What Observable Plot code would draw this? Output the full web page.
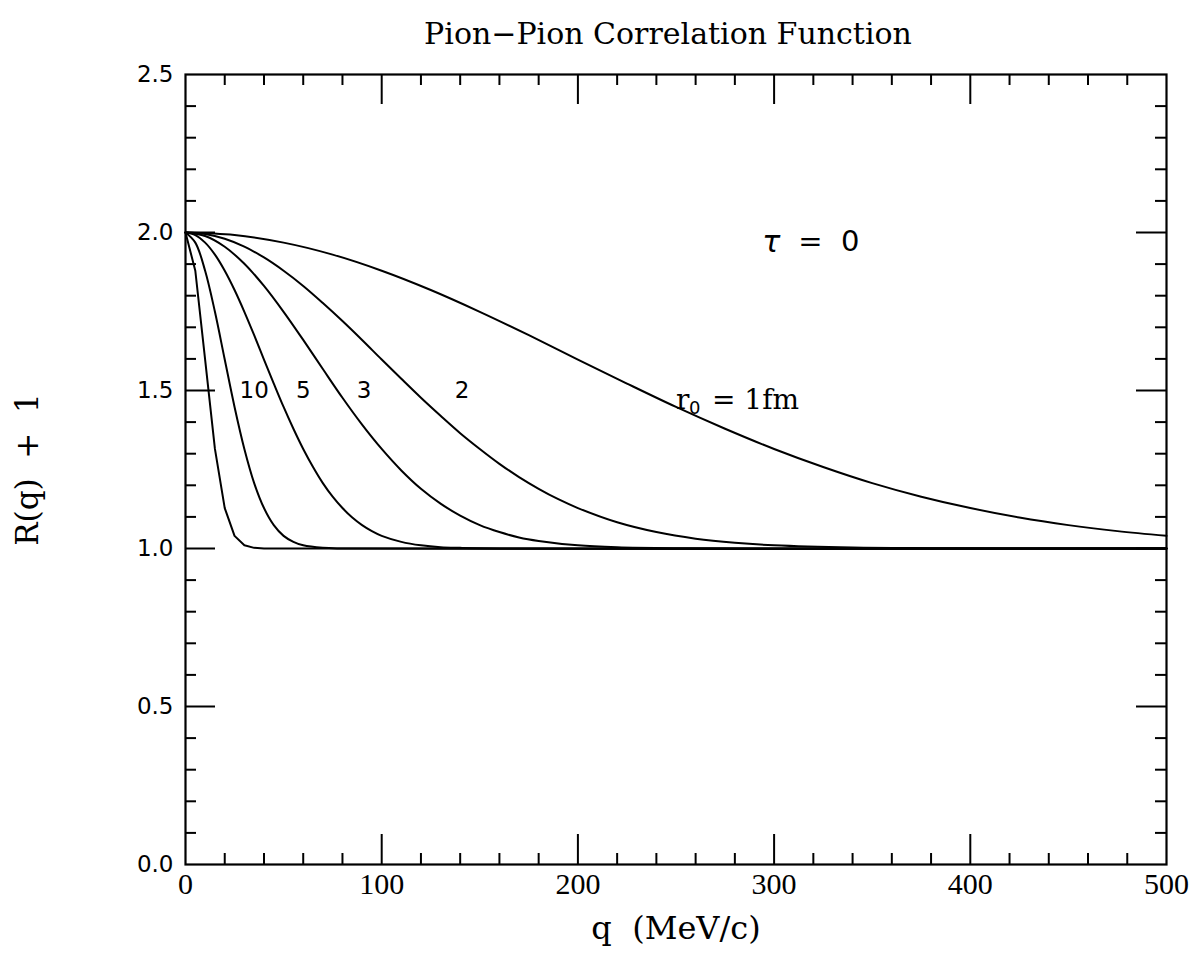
<!DOCTYPE html>
<html><head><meta charset="utf-8">
<script src="https://cdn.jsdelivr.net/npm/d3@7"></script>
<script src="https://cdn.jsdelivr.net/npm/@observablehq/plot@0.6"></script>
<style>body{margin:0;background:#fff}</style>
</head><body><div id="chart"></div>
<script>
// ---- data ----
const q_r1  = [0,25,50,75,100,125,150,175,200,225,250,275,300,325,350,375,400,425,450,475,500];
const v_r1  = [2.00,1.992,1.968,1.93,1.879,1.818,1.749,1.675,1.598,1.522,1.448,1.379,1.315,1.258,1.207,1.164,1.128,1.098,1.074,1.055,1.04];
const q_r2  = [0,10,20,30,40,50,60,70,80,90,100,110,120,130,140,150,160,170,180,190,200,220,240,260,280,300,340,380,420,500];
const v_r2  = [2.00,1.995,1.98,1.955,1.921,1.879,1.831,1.777,1.72,1.66,1.598,1.537,1.477,1.42,1.365,1.315,1.268,1.226,1.189,1.156,1.128,1.083,1.052,1.031,1.018,1.01,1.003,1.001,1.0,1.0];
const q_r3  = [0,10,20,30,40,50,60,70,80,90,100,110,120,130,140,150,160,170,180,200,220,250,300,500];
const v_r3  = [2.00,1.989,1.955,1.901,1.831,1.749,1.66,1.568,1.477,1.392,1.315,1.247,1.189,1.142,1.104,1.074,1.052,1.035,1.024,1.01,1.004,1.001,1.0,1.0];
const q_r5  = [0,5,10,15,20,25,30,35,40,45,50,55,60,65,70,75,80,85,90,95,100,110,120,130,140,160,500];
const v_r5  = [2.00,1.992,1.968,1.93,1.879,1.818,1.749,1.675,1.598,1.522,1.448,1.379,1.315,1.258,1.207,1.164,1.128,1.098,1.074,1.055,1.04,1.021,1.01,1.004,1.002,1.0,1.0];
const q_r10 = [0,5,10,15,20,25,30,35,40,45,50,55,60,70,80,500];
const v_r10 = [2.00,1.968,1.879,1.749,1.598,1.448,1.315,1.207,1.128,1.074,1.04,1.021,1.01,1.002,1.0,1.0];
const q_r20 = [0,5,10,15,20,25,30,35,40,500];
const v_r20 = [2.00,1.879,1.598,1.315,1.128,1.04,1.01,1.002,1.0,1.0];

const xTickLabels = [0,100,200,300,400,500];
const yTickLabels = [0.0,0.5,1.0,1.5,2.0,2.5];
const xMajor = [100,200,300,400];
const xMinor = [20,40,60,80,120,140,160,180,220,240,260,280,320,340,360,380,420,440,460,480];
const yMajor = [0.5,1.0,1.5,2.0];
const yMinor = [0.1,0.2,0.3,0.4,0.6,0.7,0.8,0.9,1.1,1.2,1.3,1.4,1.6,1.7,1.8,1.9,2.1,2.2,2.3,2.4];

const curveLabelText = ["10","5","3","2"];
const curveLabelQ    = [35,60,91,141];
const curveLabelV    = [1.5,1.5,1.5,1.5];

const titleText = "Pion\u2212Pion Correlation Function";
const xLabelText = "q\u00a0\u00a0(MeV/c)";
const yLabelText = "R(q)\u00a0\u00a0+\u00a0\u00a01";

// ---- build tables ----
const smoothSeries = [[1,q_r1,v_r1],[2,q_r2,v_r2],[3,q_r3,v_r3],[5,q_r5,v_r5],[10,q_r10,v_r10]];
const smoothRows = smoothSeries.flatMap(([r,qs,vs]) => qs.map((q,i)=>({r,q,v:vs[i]})));
const sharpRows = q_r20.map((q,i)=>({r:20,q,v:v_r20[i]}));
const curveLabels = curveLabelText.map((t,i)=>({t,q:curveLabelQ[i],v:curveLabelV[i]}));

const W=1196,H=962,mL=185,mR=30,mT=74,mB=98;
const plotW=W-mL-mR, plotH=H-mT-mB;
const major=30, minor=11;
const serif="DejaVu Serif", sans="DejaVu Sans", tserif="Liberation Serif";
const ink="#000";

const chart = Plot.plot({
  width:W, height:H, marginLeft:mL, marginRight:mR, marginTop:mT, marginBottom:mB,
  style:{background:"#fff"},
  x:{domain:[0,500], axis:null},
  y:{domain:[0,2.5], axis:null},
  marks:[
    Plot.tickX(xMajor,{x:d=>d, insetTop:plotH-major, stroke:ink, strokeWidth:2}),
    Plot.tickX(xMajor,{x:d=>d, insetBottom:plotH-major, stroke:ink, strokeWidth:2}),
    Plot.tickX(xMinor,{x:d=>d, insetTop:plotH-minor, stroke:ink, strokeWidth:2}),
    Plot.tickX(xMinor,{x:d=>d, insetBottom:plotH-minor, stroke:ink, strokeWidth:2}),
    Plot.tickY(yMajor,{y:d=>d, insetRight:plotW-major, stroke:ink, strokeWidth:2}),
    Plot.tickY(yMajor,{y:d=>d, insetLeft:plotW-major, stroke:ink, strokeWidth:2}),
    Plot.tickY(yMinor,{y:d=>d, insetRight:plotW-minor, stroke:ink, strokeWidth:2}),
    Plot.tickY(yMinor,{y:d=>d, insetLeft:plotW-minor, stroke:ink, strokeWidth:2}),
    Plot.line(smoothRows,{x:"q", y:"v", z:"r", curve:"catmull-rom", stroke:ink, strokeWidth:2}),
    Plot.line(sharpRows,{x:"q", y:"v", curve:"linear", stroke:ink, strokeWidth:2}),
    Plot.frame({stroke:ink, strokeWidth:2.2}),
    Plot.text(xTickLabels,{x:d=>d, frameAnchor:"bottom", lineAnchor:"middle", dy:20, text:d=>String(d), fontSize:30, fontFamily:tserif, fill:ink}),
    Plot.text(yTickLabels,{y:d=>d, frameAnchor:"left", lineAnchor:"middle", dx:-12, textAnchor:"end", text:d=>d.toFixed(1), fontSize:23, fontFamily:sans, fill:ink}),
    Plot.text(curveLabels,{x:"q", y:"v", text:"t", fontSize:23, fontFamily:sans, fill:ink}),
    Plot.text(["r"],{x:250, y:1.47, textAnchor:"start", fontSize:28, fontFamily:serif, fill:ink}),
    Plot.text(["0"],{x:250, y:1.47, dx:13, dy:8, textAnchor:"start", fontSize:18, fontFamily:sans, fill:ink}),
    Plot.text(["=\u00a01fm"],{x:250, y:1.47, dx:36, textAnchor:"start", fontSize:28, fontFamily:serif, fill:ink}),
    Plot.text(["\u03c4"],{x:294, y:1.97, textAnchor:"start", fontSize:30, fontFamily:sans, fontStyle:"italic", fill:ink}),
    Plot.text(["=\u00a0\u00a00"],{x:294, y:1.97, dx:36, textAnchor:"start", fontSize:29, fontFamily:sans, fill:ink}),
    Plot.text([titleText],{frameAnchor:"top", textAnchor:"middle", lineAnchor:"middle", dx:-8, dy:-40, fontSize:30, fontFamily:serif, fill:ink}),
    Plot.text([xLabelText],{frameAnchor:"bottom", textAnchor:"middle", lineAnchor:"middle", dy:64, fontSize:32, fontFamily:serif, fill:ink}),
    Plot.text([yLabelText],{frameAnchor:"left", textAnchor:"middle", lineAnchor:"middle", dx:-157, rotate:-90, fontSize:31, fontFamily:serif, fill:ink})
  ]
});
document.getElementById("chart").appendChild(chart);
</script>
</body></html>
